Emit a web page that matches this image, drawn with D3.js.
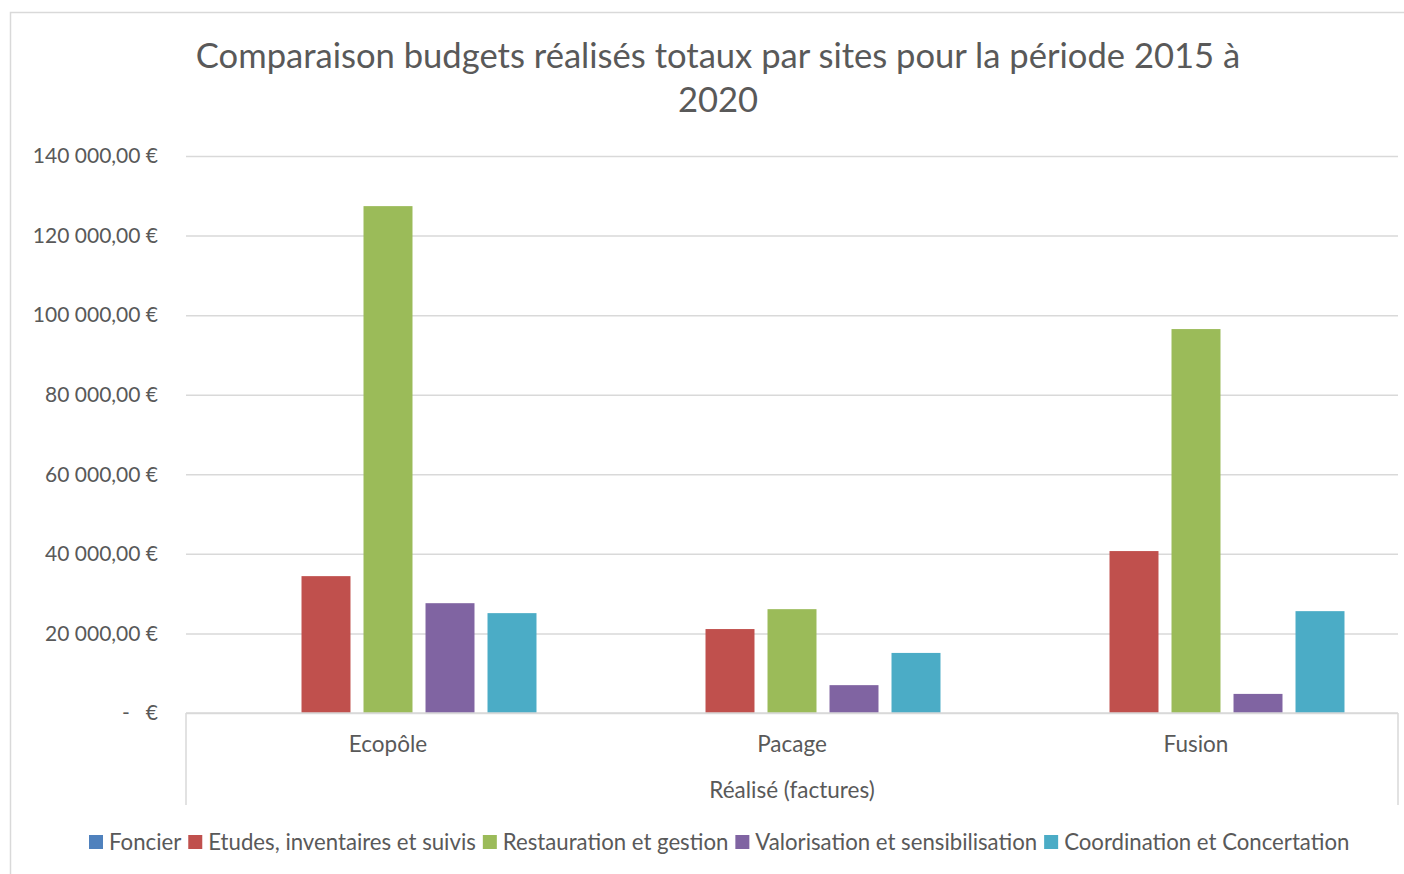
<!DOCTYPE html>
<html>
<head>
<meta charset="utf-8">
<script src="https://cdn.jsdelivr.net/npm/d3@7"></script>
<style>
  body { margin: 0; background: #fff; }
  text { font-family: "Lato", "Open Sans", sans-serif; fill: #595959; }
</style>
</head>
<body>
<svg id="chart" width="1404" height="874"></svg>
<script>
const sites = ["Ecopôle", "Pacage", "Fusion"];
const series = ["Foncier", "Etudes, inventaires et suivis", "Restauration et gestion", "Valorisation et sensibilisation", "Coordination et Concertation"];
const foncier = [0, 0, 0];
const etudes = [34400, 21100, 40700];
const restauration = [127400, 26100, 96500];
const valorisation = [27600, 7000, 4800];
const coordination = [25100, 15100, 25600];
const yTicks = [0, 20000, 40000, 60000, 80000, 100000, 120000, 140000];
const colors = ["#4F81BD", "#C0504D", "#9BBB59", "#8064A2", "#4BACC6"];

const values = [foncier, etudes, restauration, valorisation, coordination];
const width = 1404;
const height = 874;
const margin = { top: 156, right: 6, bottom: 161, left: 186 };

const svg = d3.select("#chart");

// chart area border
svg.append("rect")
  .attr("x", 10.5).attr("y", 12.5)
  .attr("width", width).attr("height", height)
  .attr("fill", "none").attr("stroke", "#D9D9D9").attr("stroke-width", 1.5);

const fr = d3.formatLocale({ decimal: ",", thousands: "\u00a0", grouping: [3], currency: ["", " €"] });
const fmt = fr.format(",.2f");

const x0 = d3.scaleBand()
  .domain(sites)
  .range([margin.left, width - margin.right]);

const x1 = d3.scaleBand()
  .domain(series)
  .range([0, x0.bandwidth()])
  .paddingInner(0.21)
  .paddingOuter(0.863);

const y = d3.scaleLinear()
  .domain([0, 140000])
  .range([height - margin.bottom, margin.top]);

// gridlines + y labels
const yAxis = d3.axisLeft(y)
  .tickValues(yTicks)
  .tickSize(-(width - margin.left - margin.right))
  .tickPadding(28)
  .tickFormat(d => d === 0 ? "-\u00a0\u00a0\u00a0€" : fmt(d) + " €");

svg.append("g")
  .attr("transform", `translate(${margin.left}, 0)`)
  .call(yAxis)
  .call(g => g.select(".domain").remove())
  .call(g => g.selectAll(".tick line").attr("stroke", "#D9D9D9").attr("stroke-width", 1.5))
  .call(g => g.selectAll(".tick text").attr("font-size", 21).attr("fill", "#595959")
    .style("font-family", "Lato, 'Open Sans', sans-serif"));

// bars
const groups = svg.append("g").selectAll("g")
  .data(sites)
  .join("g")
  .attr("transform", d => `translate(${x0(d)}, 0)`);

groups.selectAll("rect")
  .data((d, i) => series.map((s, j) => ({ s, v: values[j][i], c: colors[j] })))
  .join("rect")
  .attr("x", d => x1(d.s))
  .attr("width", x1.bandwidth())
  .attr("y", d => y(d.v))
  .attr("height", d => y(0) - y(d.v))
  .attr("fill", d => d.c);

// category axis (multi-level)
const base = y(0);
const axisG = svg.append("g").attr("stroke", "#D9D9D9").attr("stroke-width", 1.5);
axisG.append("line")
  .attr("x1", margin.left).attr("x2", width - margin.right)
  .attr("y1", base).attr("y2", base);
axisG.append("line")
  .attr("x1", margin.left).attr("x2", margin.left)
  .attr("y1", base).attr("y2", base + 92);
axisG.append("line")
  .attr("x1", width - margin.right).attr("x2", width - margin.right)
  .attr("y1", base).attr("y2", base + 92);

svg.append("g").selectAll("text")
  .data(sites)
  .join("text")
  .attr("x", d => x0(d) + x0.bandwidth() / 2)
  .attr("y", base + 39)
  .attr("text-anchor", "middle")
  .attr("font-size", 22.5)
  .text(d => d);

svg.append("text")
  .attr("x", (margin.left + width - margin.right) / 2)
  .attr("y", base + 85)
  .attr("text-anchor", "middle")
  .attr("font-size", 22.5)
  .text("Réalisé (factures)");

// title
const title = svg.append("text")
  .attr("text-anchor", "middle")
  .attr("font-size", 34.6);
title.append("tspan").attr("x", 718).attr("y", 68)
  .text("Comparaison budgets réalisés totaux par sites pour la période 2015 à");
title.append("tspan").attr("x", 718).attr("y", 112)
  .text("2020");

// legend
const legend = svg.append("g").attr("transform", "translate(89, 842)");
let lx = 0;
series.forEach((s, i) => {
  const item = legend.append("g").attr("transform", `translate(${lx}, 0)`);
  item.append("rect")
    .attr("x", 0).attr("y", -7).attr("width", 14).attr("height", 14)
    .attr("fill", colors[i]);
  const t = item.append("text")
    .attr("x", 20).attr("y", 8)
    .attr("font-size", 22.2)
    .text(s);
  lx += 20 + t.node().getComputedTextLength() + 7;
});
</script>
</body>
</html>
